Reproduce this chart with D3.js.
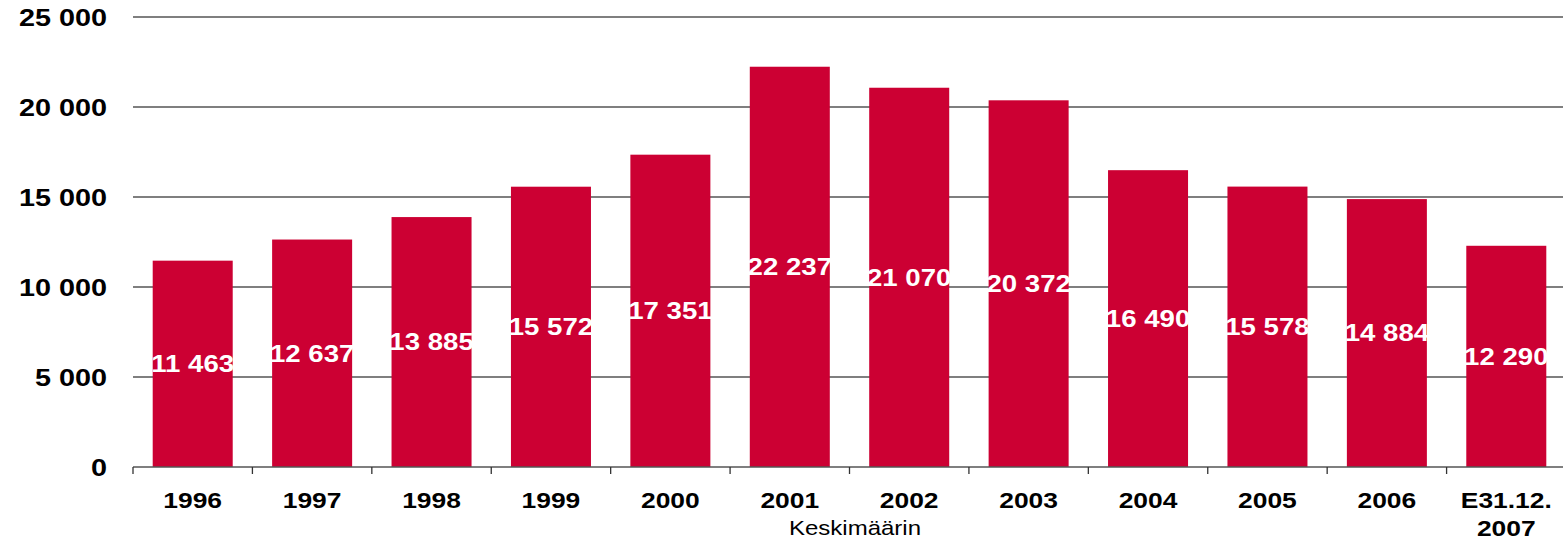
<!DOCTYPE html><html>
<head>
<meta charset="utf-8">
<title>Keskimäärin</title>
<style>
  body { margin: 0; background: #fff; }
  svg { display: block; font-family: "Liberation Sans", Arial, sans-serif; }
</style>
</head><body>
<svg width="1563" height="541"></svg>
<script src="https://cdn.jsdelivr.net/npm/d3@7"></script>
<script>
var years  = ['1996','1997','1998','1999','2000','2001','2002','2003','2004','2005','2006','E31.12.|2007'];
var values = [11463, 12637, 13885, 15572, 17351, 22237, 21070, 20372, 16490, 15578, 14884, 12290];
var yTicks = [0, 5000, 10000, 15000, 20000, 25000];

var svg = d3.select('svg');
var mLeft = 133, mRight = 1566, mTop = 17, mBottom = 467;
var sx = 1.2; // text in the original is stretched wide

var x = d3.scaleBand().domain(years).range([mLeft, mRight]).paddingInner(0.33).paddingOuter(0.165);
var y = d3.scaleLinear().domain([0, 25000]).range([mBottom, mTop]);
var fmt = function(v) { return d3.format(',')(v).replace(/,/g, ' '); };
var at = function(px, py) { return 'translate(' + px + ',' + py + ') scale(' + sx + ',1)'; };

// grid
svg.selectAll('line.grid')
    .data(yTicks.filter(function(d) { return d > 0; }))
  .enter().append('line')
    .attr('x1', mLeft).attr('x2', 1563)
    .attr('y1', function(d) { return y(d); })
    .attr('y2', function(d) { return y(d); })
    .attr('stroke', '#555').attr('stroke-width', 1.3);

// y labels
svg.selectAll('text.ytick')
    .data(yTicks)
  .enter().append('text')
    .attr('transform', function(d) { return at(107, y(d)); })
    .attr('dy', '0.36em')
    .attr('text-anchor', 'end')
    .style('font-size', '24px').style('font-weight', 'bold')
    .text(function(d) { return fmt(d); });

// bars
svg.selectAll('rect')
    .data(values)
  .enter().append('rect')
    .attr('x', function(d, i) { return x(years[i]); })
    .attr('width', x.bandwidth())
    .attr('y', function(d) { return y(d); })
    .attr('height', function(d) { return mBottom - y(d); })
    .attr('fill', '#CC0033');

// value labels
svg.selectAll('text.val')
    .data(values)
  .enter().append('text')
    .attr('transform', function(d, i) { return at(x(years[i]) + x.bandwidth() / 2, (y(d) + mBottom) / 2); })
    .attr('dy', '0.36em')
    .attr('text-anchor', 'middle')
    .attr('fill', '#fff')
    .style('font-size', '23px').style('font-weight', 'bold')
    .text(function(d) { return fmt(d); });

// x axis
svg.append('line')
    .attr('x1', mLeft).attr('x2', 1563)
    .attr('y1', mBottom).attr('y2', mBottom)
    .attr('stroke', '#555').attr('stroke-width', 1.3);
var step = x.step();
svg.selectAll('line.xtick')
    .data(d3.range(years.length + 1))
  .enter().append('line')
    .attr('x1', function(i) { return mLeft + i * step; })
    .attr('x2', function(i) { return mLeft + i * step; })
    .attr('y1', mBottom).attr('y2', mBottom + 7)
    .attr('stroke', '#333').attr('stroke-width', 1.3);

var xl = svg.selectAll('text.xlab')
    .data(years)
  .enter().append('text')
    .attr('transform', function(d) { return at(x(d) + x.bandwidth() / 2, 508); })
    .attr('text-anchor', 'middle')
    .style('font-size', '22px').style('font-weight', 'bold');
xl.selectAll('tspan')
    .data(function(d) { return d.split('|'); })
  .enter().append('tspan')
    .attr('x', 0)
    .attr('dy', function(d, i) { return i ? 28 : 0; })
    .text(function(d) { return d; });

svg.append('text')
    .attr('transform', at(855, 535))
    .attr('text-anchor', 'middle')
    .style('font-size', '20px')
    .text('Keskimäärin');
</script>
</body></html>
